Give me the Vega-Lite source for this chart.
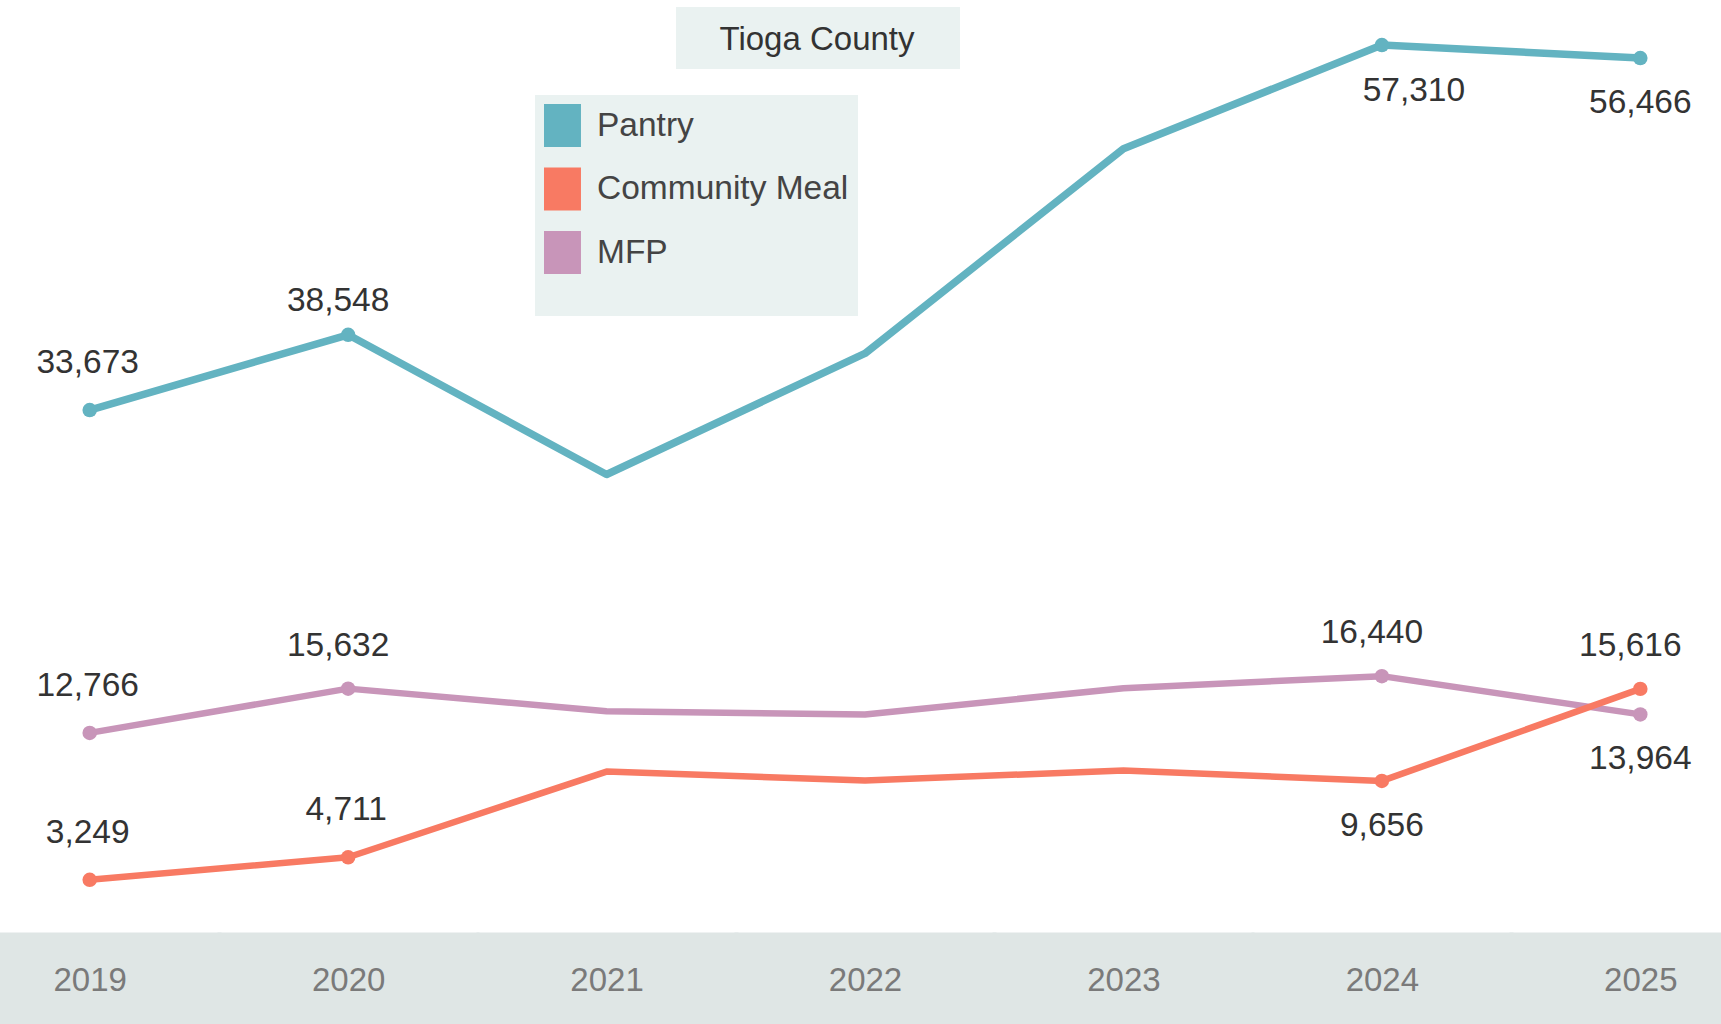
{
  "$schema": "https://vega.github.io/schema/vega-lite/v6.json",
  "autosize": {"type": "none"},
  "padding": {"left": 7, "top": 0, "right": 0, "bottom": 94},
  "width": 1716,
  "height": 930,
  "background": "white",
  "config": {"view": {"stroke": null}},
  "title": {
    "text": "Tioga County",
    "anchor": "middle",
    "frame": "group",
    "dx": -48,
    "offset": -73,
    "baseline": "middle",
    "font": "Liberation Sans",
    "fontSize": 33,
    "fontWeight": "normal",
    "color": "#333333"
  },
  "data": {
    "values": [
      {"year": "2019", "series": "Pantry", "value": 33673},
      {"year": "2020", "series": "Pantry", "value": 38548},
      {"year": "2021", "series": "Pantry", "value": 29500},
      {"year": "2022", "series": "Pantry", "value": 37340},
      {"year": "2023", "series": "Pantry", "value": 50600},
      {"year": "2024", "series": "Pantry", "value": 57310},
      {"year": "2025", "series": "Pantry", "value": 56466},
      {"year": "2019", "series": "MFP", "value": 12766},
      {"year": "2020", "series": "MFP", "value": 15632},
      {"year": "2021", "series": "MFP", "value": 14170},
      {"year": "2022", "series": "MFP", "value": 13956},
      {"year": "2023", "series": "MFP", "value": 15660},
      {"year": "2024", "series": "MFP", "value": 16440},
      {"year": "2025", "series": "MFP", "value": 13964},
      {"year": "2019", "series": "Community Meal", "value": 3249},
      {"year": "2020", "series": "Community Meal", "value": 4711},
      {"year": "2021", "series": "Community Meal", "value": 10258},
      {"year": "2022", "series": "Community Meal", "value": 9688},
      {"year": "2023", "series": "Community Meal", "value": 10322},
      {"year": "2024", "series": "Community Meal", "value": 9656},
      {"year": "2025", "series": "Community Meal", "value": 15616}
    ]
  },
  "encoding": {
    "x": {
      "field": "year",
      "type": "ordinal",
      "scale": {"type": "point", "padding": 0.32},
      "axis": {
        "title": null,
        "orient": "bottom",
        "offset": 2,
        "domain": false,
        "ticks": true,
        "tickSize": 92,
        "tickWidth": 262,
        "tickColor": "#dfe6e5",
        "tickCap": "butt",
        "grid": false,
        "labelPadding": -44,
        "labelBaseline": "middle",
        "labelAngle": 0,
        "labelFont": "Liberation Sans",
        "labelFontSize": 33,
        "labelColor": "#7a7a7a"
      }
    },
    "y": {
      "field": "value",
      "type": "quantitative",
      "scale": {"domain": [0, 60230], "nice": false, "zero": true},
      "axis": null
    },
    "color": {
      "field": "series",
      "type": "nominal",
      "scale": {
        "domain": ["Pantry", "Community Meal", "MFP"],
        "range": ["#63b3c1", "#f87a63", "#c895b9"]
      },
      "legend": {
        "title": "\u00a0",
        "titleOrient": "bottom",
        "titleFontSize": 24,
        "titlePadding": 9,
        "orient": "none",
        "legendX": 528,
        "legendY": 95,
        "padding": 9,
        "fillColor": "#eaf2f1",
        "strokeColor": null,
        "symbolType": "M-1,-1h1.72v2h-1.72z",
        "symbolSize": 1849,
        "symbolStrokeWidth": 0,
        "labelOffset": 10,
        "rowPadding": 20.5,
        "labelFont": "Liberation Sans",
        "labelFontSize": 33.5,
        "labelColor": "#444444",
        "labelLimit": 400,
        "encode": {
          "symbols": {
            "update": {
              "fill": {"scale": "color", "field": "value"},
              "stroke": {"value": "transparent"},
              "opacity": {"value": 1}
            }
          }
        }
      }
    }
  },
  "layer": [
    {
      "transform": [{"filter": "datum.series == 'Pantry'"}],
      "mark": {"type": "line", "strokeCap": "round", "strokeJoin": "round", "strokeWidth": 7.5},
      "encoding": {}
    },
    {
      "transform": [{"filter": "datum.series == 'MFP'"}],
      "mark": {"type": "line", "strokeCap": "round", "strokeJoin": "round", "strokeWidth": 6.5},
      "encoding": {}
    },
    {
      "transform": [{"filter": "datum.series == 'Community Meal'"}],
      "mark": {"type": "line", "strokeCap": "round", "strokeJoin": "round", "strokeWidth": 6.5},
      "encoding": {}
    },
    {
      "transform": [{"filter": "indexof(['2019','2020','2024','2025'], datum.year) >= 0"}],
      "mark": {"type": "point", "filled": true, "opacity": 1, "size": 210, "strokeWidth": 0},
      "encoding": {}
    },
    {
      "transform": [{"filter": "datum.year == '2019' || (datum.series == 'Community Meal' && datum.year == '2020')"}],
      "mark": {"type": "text", "dy": -47, "dx": -2, "baseline": "middle", "align": "center", "font": "Liberation Sans", "fontSize": 33.5, "color": "#333333"},
      "encoding": {
        "text": {"field": "value", "type": "quantitative", "format": ","},
        "color": {"value": "#333333"}
      }
    },
    {
      "transform": [
        {"filter": "(datum.series == 'MFP' && (datum.year == '2020' || datum.year == '2024')) || (datum.series == 'Community Meal' && datum.year == '2025')"}
      ],
      "mark": {"type": "text", "dy": -43, "dx": -10, "baseline": "middle", "align": "center", "font": "Liberation Sans", "fontSize": 33.5, "color": "#333333"},
      "encoding": {
        "text": {"field": "value", "type": "quantitative", "format": ","},
        "color": {"value": "#333333"}
      }
    },
    {
      "transform": [{"filter": "datum.series == 'Pantry' && datum.year == '2020'"}],
      "mark": {"type": "text", "dy": -34, "dx": -10, "baseline": "middle", "align": "center", "font": "Liberation Sans", "fontSize": 33.5, "color": "#333333"},
      "encoding": {
        "text": {"field": "value", "type": "quantitative", "format": ","},
        "color": {"value": "#333333"}
      }
    },
    {
      "transform": [
        {"filter": "(datum.series == 'Pantry' && datum.year == '2025') || (datum.series == 'MFP' && datum.year == '2025') || (datum.series == 'Community Meal' && datum.year == '2024')"}
      ],
      "mark": {"type": "text", "dy": 45, "dx": 0, "baseline": "middle", "align": "center", "font": "Liberation Sans", "fontSize": 33.5, "color": "#333333"},
      "encoding": {
        "text": {"field": "value", "type": "quantitative", "format": ","},
        "color": {"value": "#333333"}
      }
    },
    {
      "transform": [{"filter": "datum.series == 'Pantry' && datum.year == '2024'"}],
      "mark": {"type": "text", "dy": 46, "dx": 32, "baseline": "middle", "align": "center", "font": "Liberation Sans", "fontSize": 33.5, "color": "#333333"},
      "encoding": {
        "text": {"field": "value", "type": "quantitative", "format": ","},
        "color": {"value": "#333333"}
      }
    },
    {
      "data": {"values": [{"box": "Tioga County"}]},
      "mark": {"type": "point", "filled": true, "opacity": 0, "color": "#eaf2f1"},
      "encoding": {
        "x": null,
        "y": null,
        "color": null,
        "shape": {
          "field": "box",
          "type": "nominal",
          "scale": {"range": ["M-4.58,-1h9.16v2h-9.16z"]},
          "legend": {
            "title": null,
            "orient": "none",
            "legendX": 780,
            "legendY": 7,
            "padding": 0,
            "symbolSize": 3844,
            "symbolType": "M-4.58,-1h9.16v2h-9.16z",
            "symbolFillColor": "#eaf2f1",
            "symbolStrokeColor": "#eaf2f1",
            "symbolStrokeWidth": 0,
            "symbolOpacity": 1,
            "labelFontSize": 1,
            "labelOpacity": 0,
            "labelOffset": 0,
            "encode": {
              "symbols": {
                "update": {
                  "fill": {"value": "#eaf2f1"},
                  "stroke": {"value": "transparent"},
                  "opacity": {"value": 1}
                }
              }
            }
          }
        }
      }
    }
  ]
}
